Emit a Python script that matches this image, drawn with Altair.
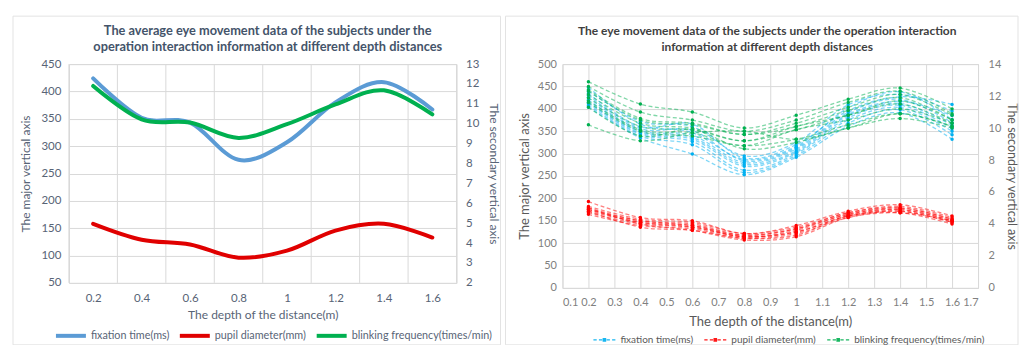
import altair as alt
import pandas as pd

FONT = "Lato"

# depth of the distance (m)
distance = [0.2, 0.4, 0.6, 0.8, 1.0, 1.2, 1.4, 1.6]
band_edges = [0.1, 0.3, 0.5, 0.7, 0.9, 1.1, 1.3, 1.5, 1.7]
fine_ticks = [0.1, 0.2, 0.3, 0.4, 0.5, 0.6, 0.7, 0.8, 0.9, 1.0,
              1.1, 1.2, 1.3, 1.4, 1.5, 1.6, 1.7]

measures = ["fixation time(ms)", "pupil diameter(mm)", "blinking frequency(times/min)"]
avg_colors = ["#5B9BD5", "#E00000", "#00B050"]
subject_colors = ["#00B0F0", "#FF0000", "#00B050"]

left_title = ["The average eye movement data of the subjects under the",
              "operation interaction information at different depth distances"]
right_title = ["The eye movement data of the subjects under the operation interaction",
               "information at different depth distances"]

# averages over all subjects
avg_fixation = [424, 352, 343, 275, 307, 380, 417, 367]
avg_pupil = [4.97, 4.17, 3.93, 3.27, 3.62, 4.63, 4.97, 4.28]
avg_blink = [11.9, 10.22, 10.06, 9.29, 9.98, 10.97, 11.68, 10.47]

# per-subject measurements (one row per subject)
fixation_subjects = [
    [448, 366, 347, 287, 316, 402, 438, 376],
    [440, 372, 360, 295, 325, 409, 432, 395],
    [435, 360, 366, 290, 320, 396, 427, 410],
    [430, 356, 352, 284, 313, 392, 421, 369],
    [425, 352, 341, 280, 310, 388, 417, 385],
    [420, 349, 336, 276, 306, 385, 412, 363],
    [415, 346, 332, 272, 303, 380, 408, 356],
    [412, 343, 327, 263, 300, 375, 403, 350],
    [408, 339, 320, 258, 296, 368, 398, 342],
    [404, 335, 299, 253, 292, 361, 391, 332],
]
pupil_subjects = [
    [5.4, 4.4, 4.2, 3.4, 3.9, 4.8, 5.2, 4.5],
    [5.1, 4.3, 4.1, 3.4, 3.8, 4.7, 5.1, 4.4],
    [5.0, 4.2, 4.0, 3.3, 3.7, 4.7, 5.0, 4.3],
    [4.9, 4.2, 3.9, 3.3, 3.7, 4.6, 5.0, 4.3],
    [4.9, 4.1, 3.9, 3.2, 3.6, 4.6, 4.9, 4.2],
    [4.8, 4.1, 3.8, 3.2, 3.5, 4.5, 4.9, 4.2],
    [4.7, 4.0, 3.8, 3.2, 3.5, 4.5, 4.8, 4.1],
    [4.6, 3.9, 3.7, 3.1, 3.4, 4.4, 4.8, 4.1],
    [4.8, 3.8, 3.6, 3.1, 3.3, 4.5, 4.7, 4.0],
    [5.0, 4.0, 3.6, 3.0, 3.2, 4.4, 4.7, 4.2],
]
blink_subjects = [
    [12.9, 11.5, 11.0, 10.0, 10.8, 11.8, 12.5, 11.2],
    [12.6, 11.0, 10.5, 9.8, 10.5, 11.6, 12.3, 10.9],
    [12.4, 10.6, 10.3, 9.6, 10.3, 11.3, 12.1, 10.8],
    [12.3, 10.5, 10.2, 9.6, 10.1, 11.1, 11.9, 10.5],
    [12.1, 10.3, 10.0, 9.2, 10.1, 10.8, 11.7, 10.5],
    [11.9, 10.1, 9.9, 9.2, 9.9, 10.8, 11.5, 10.3],
    [11.7, 9.9, 9.7, 8.9, 9.9, 10.5, 11.2, 10.3],
    [11.6, 9.8, 9.5, 8.9, 9.3, 10.2, 10.9, 10.1],
    [11.3, 9.5, 9.9, 8.7, 9.1, 10.0, 10.6, 10.0],
    [10.2, 9.2, 9.7, 9.8, 9.3, 10.0, 10.9, 10.1],
]

avg_df = pd.DataFrame({
    "distance": distance * 3,
    "measure": [m for m in measures for _ in distance],
    "value": avg_fixation + avg_pupil + avg_blink,
})

rows = []
for measure, table in zip(measures, [fixation_subjects, pupil_subjects, blink_subjects]):
    for i, series in enumerate(table):
        for d, v in zip(distance, series):
            rows.append({"subject": f"S{i + 1}", "measure": measure, "distance": d, "value": v})
subj_df = pd.DataFrame(rows)

one_row = pd.DataFrame({"k": [0]})

# ---------------- left panel: averages ----------------
L_TEXT = "#586476"
L_TITLE = "#44546A"

left_x_scale = alt.Scale(domain=[0.1, 1.7], nice=False, zero=False)
left_x = alt.X(
    "distance:Q", scale=left_x_scale,
    axis=alt.Axis(values=distance, format="~g", grid=False, ticks=False, domain=False,
                  labelPadding=10, labelFontSize=11.5, labelColor=L_TEXT, labelFont=FONT,
                  title="The depth of the distance(m)", titleFontSize=12,
                  titleFontWeight="normal", titleColor=L_TEXT, titleFont=FONT, titlePadding=5),
)
left_color = alt.Color(
    "measure:N", scale=alt.Scale(domain=measures, range=avg_colors),
    legend=alt.Legend(title=None, orient="none", legendX=-15, legendY=255,
                      direction="horizontal", symbolType="stroke", symbolSize=900,
                      symbolStrokeWidth=4, labelFontSize=10.8, labelColor=L_TEXT,
                      labelFont=FONT, columnPadding=2, labelOffset=3),
)

left_frame = alt.Chart(one_row).mark_rect(fill="white", fillOpacity=0, stroke="#E3E3E3",
                                          strokeWidth=1).encode(
    x=alt.value(-56), x2=alt.value(432), y=alt.value(-48), y2=alt.value(281))

left_heading = alt.Chart(one_row).mark_text(
    text=left_title, font=FONT, fontSize=12.8, fontWeight="bold", color=L_TITLE,
    align="center", baseline="middle", lineHeight=16).encode(
    x=alt.value(199), y=alt.value(-33))

# vertical grid lines sit on the category boundaries
left_grid = alt.Chart(pd.DataFrame({"distance": band_edges})).mark_rule(
    color="#D9D9D9", strokeWidth=1).encode(x=left_x)

left_fix = alt.Chart(avg_df).transform_filter(
    alt.datum.measure == measures[0]).mark_line(
    interpolate="cardinal", strokeWidth=4, strokeCap="round", strokeJoin="round").encode(
    x=left_x,
    y=alt.Y("value:Q", scale=alt.Scale(domain=[50, 450], nice=False, zero=False),
            axis=alt.Axis(values=list(range(50, 451, 50)), orient="left", grid=True,
                          gridColor="#D9D9D9", ticks=False, domain=False, labelPadding=8,
                          labelFontSize=11.5, labelColor=L_TEXT, labelFont=FONT,
                          title="The major vertical axis", titleFontSize=12,
                          titleFontWeight="normal", titleColor=L_TEXT, titleFont=FONT,
                          titlePadding=8)),
    color=left_color,
)

left_sec = alt.Chart(avg_df).transform_filter(
    alt.datum.measure != measures[0]).mark_line(
    interpolate="cardinal", strokeWidth=4, strokeCap="round", strokeJoin="round").encode(
    x=left_x,
    y=alt.Y("value:Q", scale=alt.Scale(domain=[2, 13], nice=False, zero=False),
            axis=alt.Axis(values=list(range(2, 14)), orient="right", grid=False,
                          ticks=False, domain=False, labelPadding=9,
                          labelFontSize=11.5, labelColor=L_TEXT, labelFont=FONT,
                          title="The secondary vertical axis", titleFontSize=12,
                          titleFontWeight="normal", titleColor=L_TEXT, titleFont=FONT,
                          titlePadding=8)),
    color=left_color,
)

left_chart = alt.layer(left_frame, left_heading, left_grid, left_fix, left_sec).resolve_scale(
    y="independent").properties(width=388, height=219)

# ---------------- right panel: every subject ----------------
R_TEXT = "#808080"
R_TITLE = "#404040"
R_AXT = "#595959"

right_x_scale = alt.Scale(domain=[0.1, 1.7], nice=False, zero=False)
right_x = alt.X(
    "distance:Q", scale=right_x_scale,
    axis=alt.Axis(values=fine_ticks, format="~g", grid=True, gridColor="#D9D9D9",
                  ticks=False, domain=False, labelPadding=9, labelFontSize=11,
                  labelColor=R_TEXT, labelFont=FONT,
                  title="The depth of the distance(m)", titleFontSize=13,
                  titleFontWeight="normal", titleColor=R_AXT, titleFont=FONT,
                  titlePadding=8),
)
right_legend = alt.Legend(
    title=None, orient="none", legendX=30, legendY=264, direction="horizontal",
    symbolType="M-1,0H-0.7M-0.5,0H-0.2M0.2,0H0.5M0.7,0H1M-0.1,-0.1H0.1V0.1H-0.1Z",
    symbolSize=484, symbolStrokeWidth=1.4, symbolOpacity=0.9,
    labelFontSize=10, labelColor=R_AXT, labelFont=FONT, columnPadding=8, labelOffset=4)
right_color = alt.Color("measure:N", scale=alt.Scale(domain=measures, range=subject_colors),
                        legend=right_legend)

right_frame = alt.Chart(one_row).mark_rect(fill="white", fillOpacity=0, stroke="#E3E3E3",
                                           strokeWidth=1).encode(
    x=alt.value(-57), x2=alt.value(456), y=alt.value(-48), y2=alt.value(281))

right_heading = alt.Chart(one_row).mark_text(
    text=right_title, font=FONT, fontSize=12, fontWeight="bold", color=R_TITLE,
    align="center", baseline="middle", lineHeight=15.5).encode(
    x=alt.value(205), y=alt.value(-33))

prim_y = alt.Y("value:Q", scale=alt.Scale(domain=[0, 500], nice=False, zero=False),
               axis=alt.Axis(values=list(range(0, 501, 50)), orient="left", grid=True,
                             gridColor="#D9D9D9", ticks=False, domain=False, labelPadding=6,
                             labelFontSize=11, labelColor=R_TEXT, labelFont=FONT,
                             title="The major vertical axis", titleFontSize=13,
                             titleFontWeight="normal", titleColor=R_AXT, titleFont=FONT,
                             titlePadding=6))
sec_y = alt.Y("value:Q", scale=alt.Scale(domain=[0, 14], nice=False, zero=False),
              axis=alt.Axis(values=list(range(0, 15, 2)), orient="right", grid=False,
                            ticks=False, domain=False, labelPadding=10,
                            labelFontSize=11, labelColor=R_TEXT, labelFont=FONT,
                            title="The secondary vertical axis", titleFontSize=12.5,
                            titleFontWeight="normal", titleColor=R_AXT, titleFont=FONT,
                            titlePadding=4))

prim_base = alt.Chart(subj_df).transform_filter(alt.datum.measure == measures[0]).encode(
    x=right_x, y=prim_y, color=right_color, detail="subject:N")
prim_layer = alt.layer(
    prim_base.mark_line(interpolate="cardinal", strokeWidth=1.3, strokeDash=[4, 2.5],
                        opacity=0.5),
    prim_base.mark_circle(size=12, opacity=1),
)

sec_base = alt.Chart(subj_df).transform_filter(alt.datum.measure != measures[0]).encode(
    x=right_x, y=sec_y, color=right_color, detail="subject:N")
sec_layer = alt.layer(
    sec_base.mark_line(interpolate="cardinal", strokeWidth=1.3, strokeDash=[4, 2.5],
                       opacity=0.5),
    sec_base.mark_circle(size=12, opacity=1),
)

right_chart = alt.layer(right_frame, right_heading, prim_layer, sec_layer).resolve_scale(
    y="independent").properties(width=416, height=224)

# plot areas placed by their own size; 106 px between them leaves room for the axes
chart = alt.hconcat(left_chart, right_chart, spacing=106, bounds="flush").resolve_scale(
    color="independent", x="independent").properties(
    padding={"left": 12, "top": 15, "right": 0, "bottom": 0}
).configure(background="white").configure_view(stroke="#D9D9D9")

chart.save("out.html", embed_options={"renderer": "svg", "actions": False})
